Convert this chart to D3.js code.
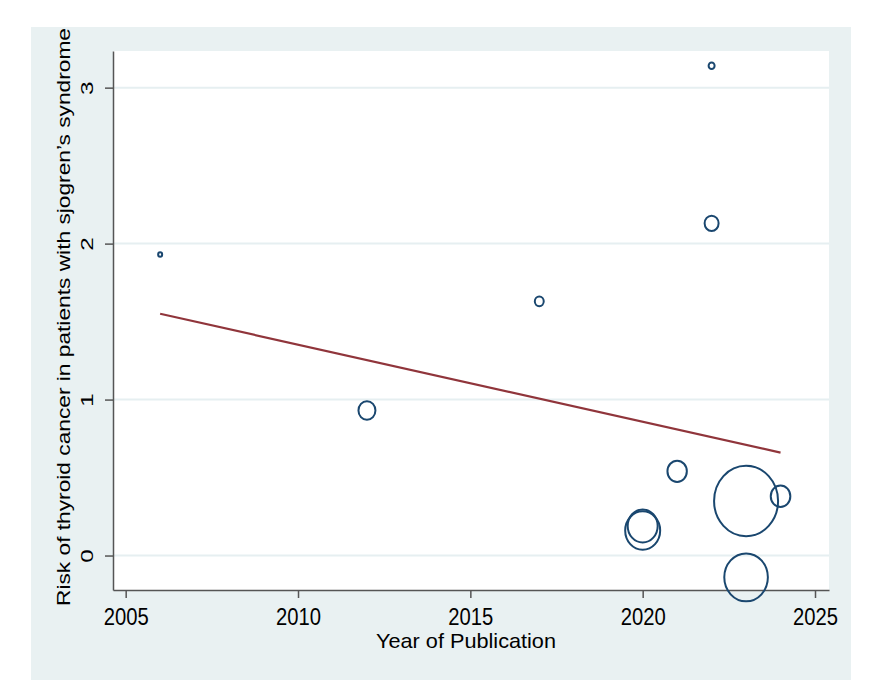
<!DOCTYPE html>
<html>
<head>
<meta charset="utf-8">
<script src="https://cdn.jsdelivr.net/npm/d3@7"></script>
<style>
  body { margin: 0; background: #fff; }
  text { font-family: "Liberation Sans", Arial, sans-serif; fill: #000; }
</style>
</head>
<body>
<script>
// studies (year, risk estimate, weight)
var years   = [2006, 2012, 2017, 2020, 2020, 2021, 2022, 2022, 2023, 2023, 2024];
var risks   = [1.93, 0.93, 1.63, 0.19, 0.16, 0.54, 2.13, 3.14, 0.35, -0.14, 0.38];
var weights = [4, 72, 20, 225, 306, 94, 49, 9, 1024, 475, 96];

// fitted meta-regression line
var fitYears = [2006, 2024];
var fitRisks = [1.55, 0.66];

var xTicks = [2005, 2010, 2015, 2020, 2025];
var yTicks = [0, 1, 2, 3];

var xTitle = "Year of Publication";
var yTitle = "Risk of thyroid cancer in patients with sjogren\u2019s syndrome";

var width = 886, height = 700;
var plot = {left: 113, right: 829, top: 51, bottom: 590};

var svg = d3.select("body").append("svg")
    .attr("width", width)
    .attr("height", height);

// outer panel
svg.append("rect")
    .attr("x", 31).attr("y", 27)
    .attr("width", 820).attr("height", 653)
    .attr("fill", "#e9f1f2");

svg.append("rect")
    .attr("x", plot.left).attr("y", plot.top)
    .attr("width", plot.right - plot.left).attr("height", plot.bottom - plot.top)
    .attr("fill", "#fff");

var x = d3.scaleLinear().domain([2004.632, 2025.406]).range([plot.left, plot.right]);
var y = d3.scaleLinear().domain([-0.221, 3.235]).range([plot.bottom, plot.top]);
var r = d3.scaleSqrt().domain([0, 1024]).range([0, 32]);

// gridlines
svg.selectAll("line.grid")
    .data(yTicks)
    .enter()
    .append("line")
    .attr("class", "grid")
    .attr("x1", plot.left).attr("x2", plot.right)
    .attr("y1", function(d) { return y(d); })
    .attr("y2", function(d) { return y(d); })
    .attr("stroke", "#e6eff1")
    .attr("stroke-width", 2);

// axes
var xAxis = svg.append("g")
    .attr("transform", "translate(0," + plot.bottom + ")")
    .call(d3.axisBottom(x).tickValues(xTicks).tickSize(8).tickSizeOuter(0).tickFormat(d3.format("d")));
xAxis.select(".domain").attr("stroke", "#555").attr("stroke-width", 1.5);
xAxis.selectAll(".tick line").attr("stroke", "#555").attr("stroke-width", 1.5);
xAxis.selectAll(".tick text")
    .attr("y", 0)
    .attr("dy", 0)
    .attr("font-size", 23)
    .attr("textLength", 45)
    .attr("lengthAdjust", "spacingAndGlyphs")
    .attr("transform", "translate(0,35)")
    .style("font-family", "Liberation Sans, Arial, sans-serif")
    .attr("fill", "#000");

var yAxis = svg.append("g")
    .attr("transform", "translate(" + plot.left + ",0)")
    .call(d3.axisLeft(y).tickValues(yTicks).tickSize(8).tickSizeOuter(0).tickFormat(d3.format("d")));
yAxis.select(".domain").attr("stroke", "#555").attr("stroke-width", 1.5);
yAxis.selectAll(".tick line").attr("stroke", "#555").attr("stroke-width", 1.5);
yAxis.selectAll(".tick text")
    .attr("x", 0).attr("dy", 0)
    .attr("transform", "translate(-20,0) rotate(-90)")
    .attr("text-anchor", "middle")
    .attr("font-size", 17)
    .attr("textLength", 13.5)
    .attr("lengthAdjust", "spacingAndGlyphs")
    .style("font-family", "Liberation Sans, Arial, sans-serif")
    .attr("fill", "#000");

// axis titles
svg.append("text")
    .attr("x", 466).attr("y", 648)
    .attr("text-anchor", "middle")
    .attr("font-size", 21)
    .attr("textLength", 180)
    .attr("lengthAdjust", "spacingAndGlyphs")
    .text(xTitle);

svg.append("text")
    .attr("transform", "translate(70,317) rotate(-90)")
    .attr("text-anchor", "middle")
    .attr("font-size", 18)
    .attr("textLength", 578)
    .attr("lengthAdjust", "spacingAndGlyphs")
    .text(yTitle);

// bubbles
var studies = years.map(function(d, i) { return {year: d, risk: risks[i], w: weights[i]}; });
svg.selectAll("ellipse.study")
    .data(studies)
    .enter()
    .append("ellipse")
    .attr("class", "study")
    .attr("cx", function(d) { return x(d.year); })
    .attr("cy", function(d) { return y(d.risk); })
    .attr("rx", function(d) { return r(d.w); })
    .attr("ry", function(d) { return r(d.w) * 1.1; })
    .attr("fill", "none")
    .attr("stroke", "#1a476f")
    .attr("stroke-width", 2);

// fitted line
var line = d3.line()
    .x(function(d) { return x(d[0]); })
    .y(function(d) { return y(d[1]); });
svg.append("path")
    .datum(d3.zip(fitYears, fitRisks))
    .attr("d", line)
    .attr("fill", "none")
    .attr("stroke", "#90353b")
    .attr("stroke-width", 2.2);
</script>
</body>
</html>
